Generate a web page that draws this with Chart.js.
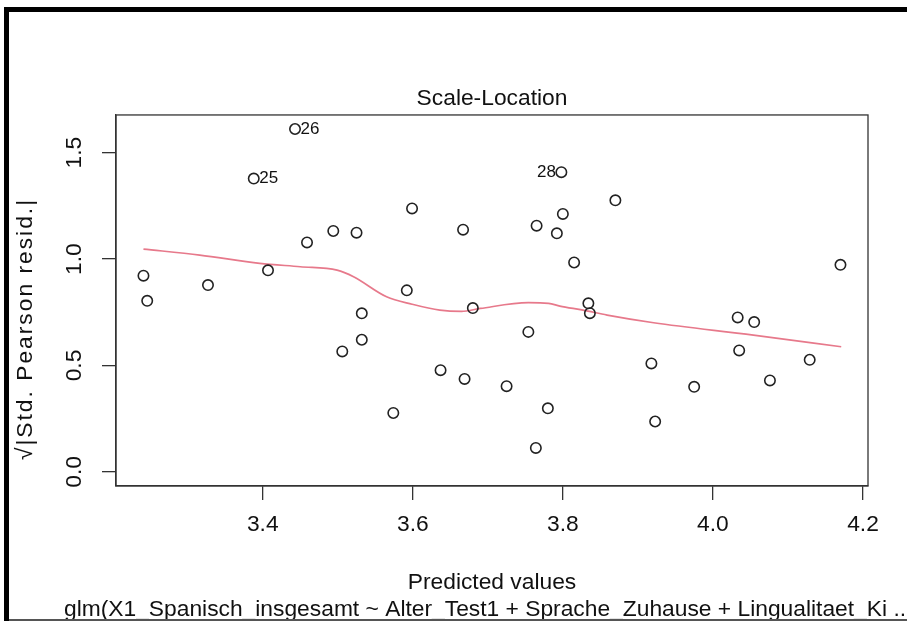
<!DOCTYPE html>
<html>
<head>
<meta charset="utf-8">
<script src="https://cdn.jsdelivr.net/npm/chart.js@4/dist/chart.umd.min.js"></script>
<style>
  html, body { margin: 0; padding: 0; background: #fff; }
  #wrap { width: 907px; height: 621px; position: relative; }
</style>
</head>
<body>
<div id="wrap"><canvas id="scaleLoc"></canvas></div>
<script>
// Scale-Location plot of a glm

var fittedValues = [3.443, 3.388, 3.599, 3.494, 3.525, 3.459, 3.241, 3.407, 3.327, 3.246,
  3.592, 3.532, 3.532, 3.506, 3.637, 3.574, 3.798, 3.870, 3.800, 3.667,
  3.765, 3.792, 3.815, 4.170, 3.834, 3.836, 3.680, 3.754, 4.033, 4.055,
  4.035, 4.129, 3.918, 3.669, 3.725, 3.975, 4.076, 3.780, 3.923, 3.764];
var sqrtAbsResid = [1.611, 1.378, 1.238, 1.132, 1.124, 1.078, 0.922, 0.947, 0.878, 0.804,
  0.853, 0.745, 0.621, 0.566, 0.478, 0.277, 1.408, 1.276, 1.212, 1.138,
  1.157, 1.121, 0.984, 0.973, 0.792, 0.746, 0.770, 0.658, 0.726, 0.704,
  0.571, 0.527, 0.510, 0.437, 0.403, 0.400, 0.430, 0.299, 0.237, 0.113];

// smoother (red line)
var smoothX = [3.241, 3.316, 3.396, 3.450, 3.499, 3.521, 3.565, 3.599, 3.636, 3.665,
  3.690, 3.754, 3.781, 3.796, 3.827, 3.859, 3.921, 4.054, 4.171];
var smoothY = [1.047, 1.019, 0.980, 0.964, 0.948, 0.917, 0.823, 0.788, 0.760, 0.754,
  0.768, 0.795, 0.792, 0.779, 0.760, 0.737, 0.701, 0.643, 0.588];

// labelled observations: index into the arrays above, name, side
var labelIndex = [0, 1, 16];
var labelText = ['26', '25', '28'];
var labelSide = ['right', 'right', 'left'];

var xTicks = [3.4, 3.6, 3.8, 4.0, 4.2];
var yTicks = [0.0, 0.5, 1.0, 1.5];

var mainTitle = 'Scale-Location';
var xTitle = 'Predicted values';
var yTitle = '\u221A|Std. Pearson resid.|';
var subTitle = 'glm(X1_Spanisch_insgesamt ~ Alter_Test1 + Sprache_Zuhause + Lingualitaet_Ki ..';

var fontFamily = '"Liberation Sans", Arial, Helvetica, sans-serif';
var fontSize = 22.8;
var ink = '#111';

var points = fittedValues.map(function (x, i) { return { x: x, y: sqrtAbsResid[i] }; });
var smooth = smoothX.map(function (x, i) { return { x: x, y: smoothY[i] }; });

// draws the R-like extras: box, rotated y labels, point ids, page frame
var rExtras = {
  id: 'rExtras',
  afterDraw: function (chart) {
    var ctx = chart.ctx;
    var a = chart.chartArea;
    var xs = chart.scales.x;
    var ys = chart.scales.y;

    ctx.save();
    ctx.strokeStyle = '#333';
    ctx.lineWidth = 1.3;
    ctx.strokeRect(a.left, a.top, a.right - a.left, a.bottom - a.top);

    ctx.fillStyle = ink;
    ctx.textAlign = 'center';
    ctx.textBaseline = 'middle';

    // y tick labels, rotated like R's las = 0
    ctx.font = fontSize + 'px ' + fontFamily;
    yTicks.forEach(function (v) {
      ctx.save();
      ctx.translate(75, ys.getPixelForValue(v));
      ctx.rotate(-Math.PI / 2);
      ctx.fillText(v.toFixed(1), 0, 0);
      ctx.restore();
    });

    // y axis title (plotmath spacing is looser)
    ctx.save();
    ctx.translate(26, 329);
    ctx.rotate(-Math.PI / 2);
    ctx.letterSpacing = '2px';
    ctx.fillText(yTitle, 0, 0);
    ctx.restore();

    // sub title under the x axis title
    ctx.fillText(subTitle, (a.left + a.right) / 2 - 7, 610);

    // ids of the most extreme points
    ctx.font = '17px ' + fontFamily;
    labelIndex.forEach(function (idx, k) {
      var px = xs.getPixelForValue(fittedValues[idx]);
      var py = ys.getPixelForValue(sqrtAbsResid[idx]);
      if (labelSide[k] === 'right') {
        ctx.textAlign = 'left';
        ctx.fillText(labelText[k], px + 5.5, py);
      } else {
        ctx.textAlign = 'right';
        ctx.fillText(labelText[k], px - 5.5, py);
      }
    });

    // frame of the screenshot
    ctx.fillStyle = '#000';
    ctx.fillRect(4, 7, 5, chart.height - 7);
    ctx.fillRect(4, 7, chart.width - 4, 5);
    ctx.fillStyle = '#555';
    ctx.fillRect(9, 619, chart.width - 9, 2);
    ctx.restore();
  }
};

new Chart(document.getElementById('scaleLoc').getContext('2d'), {
  type: 'scatter',
  data: {
    datasets: [
      {
        label: 'residuals',
        data: points,
        pointStyle: 'circle',
        pointRadius: 5.2,
        pointHoverRadius: 5.2,
        pointBorderWidth: 1.6,
        pointBorderColor: '#222',
        pointBackgroundColor: 'rgba(0,0,0,0)',
        order: 1
      },
      {
        type: 'line',
        label: 'smoother',
        data: smooth,
        borderColor: '#E7798B',
        borderWidth: 1.7,
        pointRadius: 0,
        cubicInterpolationMode: 'monotone',
        fill: false,
        order: 2
      }
    ]
  },
  options: {
    responsive: true,
    maintainAspectRatio: false,
    animation: false,
    devicePixelRatio: 1,
    layout: { padding: { top: 0, right: 39, bottom: 0, left: 0 } },
    plugins: {
      legend: { display: false },
      tooltip: { enabled: false },
      title: {
        display: true,
        text: mainTitle,
        fullSize: false,
        color: ink,
        font: { family: fontFamily, size: fontSize, weight: 'normal', lineHeight: 1.2 },
        padding: { top: 84.6, bottom: 3 }
      }
    },
    scales: {
      x: {
        type: 'linear',
        min: 3.2044,
        max: 4.2067,
        afterFit: function (s) { s.height = 135; },
        afterBuildTicks: function (s) { s.ticks = xTicks.map(function (v) { return { value: v }; }); },
        grid: { display: true, drawOnChartArea: false, drawTicks: true, tickLength: 14, color: '#333', lineWidth: 1.3 },
        border: { display: true, color: '#333', width: 1.3 },
        ticks: {
          color: ink,
          padding: 11.5,
          maxRotation: 0,
          font: { family: fontFamily, size: fontSize },
          callback: function (v) { return Number(v).toFixed(1); }
        },
        title: {
          display: true,
          text: xTitle,
          color: ink,
          font: { family: fontFamily, size: fontSize, lineHeight: 1.18 },
          padding: { top: 0, bottom: 25 }
        }
      },
      y: {
        type: 'linear',
        min: -0.066,
        max: 1.677,
        afterFit: function (s) { s.width = 116; },
        afterBuildTicks: function (s) { s.ticks = yTicks.map(function (v) { return { value: v }; }); },
        grid: { display: true, drawOnChartArea: false, drawTicks: true, tickLength: 14, color: '#333', lineWidth: 1.3 },
        border: { display: true, color: '#333', width: 1.3 },
        ticks: { display: false }
      }
    }
  },
  plugins: [rExtras]
});
</script>
</body>
</html>
